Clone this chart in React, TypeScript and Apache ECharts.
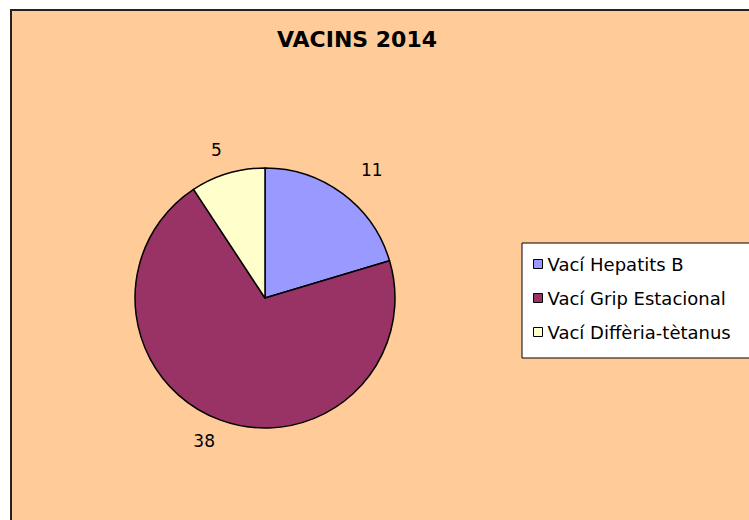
import React, { useEffect, useRef } from "react";
import * as echarts from "echarts";

const categories = ["Vací Hepatits B", "Vací Grip Estacional", "Vací Diffèria-tètanus"];
const values = [11, 38, 5];
const colors = ["#9999FF", "#993366", "#FFFFCC"];
const titleText = "VACINS 2014";

// label placement styling (per slice)
const labelLen = [29, 22, 24];
const labelLen2 = [-4, -7, -6];

const FONT = "DejaVu Sans, Liberation Sans, Arial, sans-serif";

export default function App() {
  const ref = useRef<HTMLDivElement>(null);
  useEffect(() => {
    if (!ref.current) return;
    const chart = echarts.init(ref.current, null, { renderer: "svg" });
    chart.setOption({
      animation: false,
      backgroundColor: "#FFFFFF",
      textStyle: { fontFamily: FONT },
      graphic: [
        {
          type: "rect",
          z: -10,
          silent: true,
          shape: { x: 11, y: 10, width: 800, height: 600 },
          style: { fill: "#FFCC99", stroke: "#222222", lineWidth: 2 },
        },
      ],
      title: {
        text: titleText,
        left: 352,
        top: 23,
        textAlign: "center",
        textStyle: {
          fontFamily: FONT,
          fontWeight: "bold",
          fontSize: 22,
          color: "#000000",
        },
      },
      legend: {
        orient: "vertical",
        left: 522,
        top: 243,
        padding: [12, 20, 17, 11],
        itemGap: 16,
        itemWidth: 9,
        itemHeight: 9,
        icon: "rect",
        backgroundColor: "#FFFFFF",
        borderColor: "#000000",
        borderWidth: 1,
        borderRadius: 0,
        textStyle: {
          fontFamily: FONT,
          fontSize: 18,
          lineHeight: 18,
          color: "#000000",
        },
        itemStyle: { borderColor: "#000000", borderWidth: 1 },
        data: categories,
      },
      series: [
        {
          type: "pie",
          center: [265, 298],
          radius: 130,
          startAngle: 90,
          clockwise: true,
          avoidLabelOverlap: false,
          itemStyle: { borderColor: "#000000", borderWidth: 1.5 },
          label: {
            show: true,
            position: "outside",
            formatter: "{c}",
            fontFamily: FONT,
            fontSize: 17,
            color: "#000000",
          },
          labelLine: { show: false, length: 22, length2: 0 },
          emphasis: { disabled: true },
          data: categories.map((name, i) => ({
            name,
            value: values[i],
            itemStyle: { color: colors[i] },
            labelLine: { show: false, length: labelLen[i], length2: labelLen2[i] },
          })),
        },
      ],
    });
    return () => chart.dispose();
  }, []);
  return (
    <div
      ref={ref}
      style={{ position: "fixed", left: 0, top: 0, width: 749, height: 520 }}
    />
  );
}
